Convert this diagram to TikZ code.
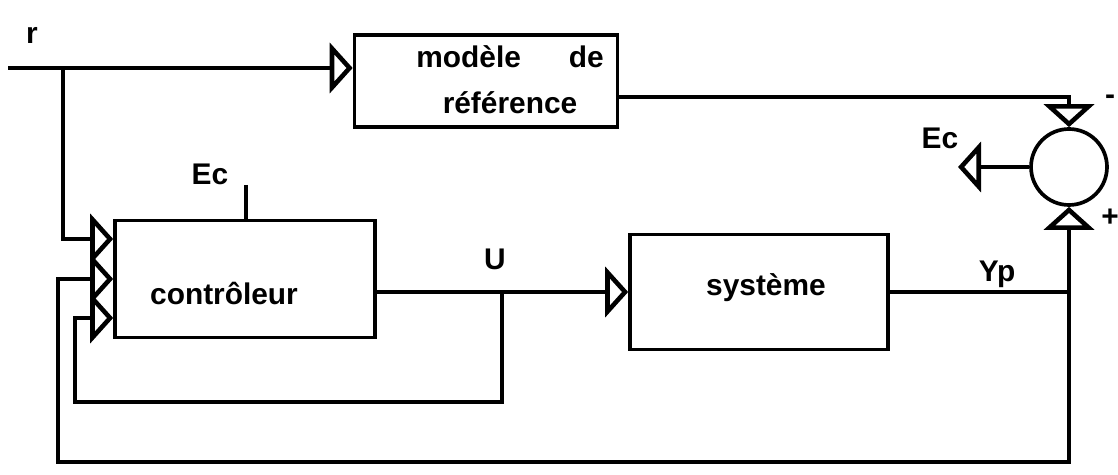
\documentclass[tikz,border=0pt]{standalone}
\usepackage{fontspec}
\setmainfont{Liberation Sans}
\usetikzlibrary{positioning,arrows.meta}

\begin{document}
\begin{tikzpicture}[x=0.02cm, y=-0.02cm, line width=2.1pt,
    every node/.style={font=\fontsize{17}{20}\selectfont\bfseries},
    blok/.style={draw, rectangle, inner sep=0pt},
    sig/.style={-{Triangle[open, length=0.46cm, width=1.0cm, line width=2.6pt]}}]
    \useasboundingbox (0,0) rectangle (1118,475);

    \node[blok, minimum width=5.26cm, minimum height=1.84cm] (ref) at (486,81) {};
    \node[blok, minimum width=5.2cm, minimum height=2.34cm] (ctrl) at (245,279) {};
    \node[blok, minimum width=5.16cm, minimum height=2.3cm] (sys) at (759,292) {};
    \node[draw, circle, minimum size=1.52cm, inner sep=0pt] (sum) at (1069,167) {};

    \node[align=center] (refname) at (510,80) {modèle\hspace{1.6em}de\\[6pt]référence};
    \node (ctrlname) at (224,293) {contrôleur};
    \node (sysname) at (766,288) {système};

    \node (r) at (32,35) {r};
    \node (ec1) at (210,174) {Ec};
    \node (u) at (495,259) {U};
    \node (yp) at (997,274) {Yp};
    \node (ec2) at (940,138) {Ec};
    \node (moins) at (1110,100) {-};
    \node (plus) at (1110,218) {+};

    \coordinate (rin) at (8,68);
    \coordinate (rbr) at (63,68);
    \coordinate (in1) at ([yshift=0.8cm]ctrl.west);
    \coordinate (in2) at (ctrl.west);
    \coordinate (in3) at ([yshift=-0.78cm]ctrl.west);
    \coordinate (ubr) at (502,292);
    \coordinate (ufb) at (75,402);
    \coordinate (yfb) at (58,462);
    \coordinate (ybr) at (sum.south |- sys.east);
    \coordinate (ecin) at (246,185);
    \coordinate (ecout) at (958,167);
    \coordinate (refout) at ([yshift=-0.32cm]ref.east);

    \draw[sig] (rin) -- (ref.west |- rin);
    \draw[sig] (rbr) |- (in1);
    \draw (ctrl.east |- sys.west) -- (ubr);
    \draw[sig] (ubr) -- (sys.west);
    \draw[sig] (ubr) |- (ufb) |- (in3);
    \draw (sys.east) -- (ybr);
    \draw[sig] (ybr) -- (sum.south);
    \draw[sig] (ybr) |- (yfb) |- (in2);
    \draw[sig] (refout) -| (sum.north);
    \draw[sig] (sum.west) -- (ecout);
    \draw (ecin) -- (ecin |- ctrl.north);
\end{tikzpicture}
\end{document}
